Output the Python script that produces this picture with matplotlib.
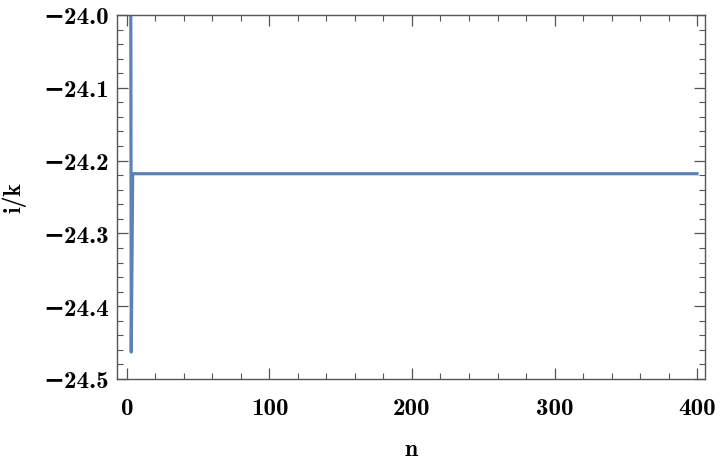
import matplotlib
matplotlib.use('Agg')
import matplotlib.pyplot as plt
from matplotlib.ticker import MultipleLocator, FuncFormatter

# data: early transient, then flat at about -24.218
n_vals = list(range(2, 401))
ik_vals = [-23.0, -24.463] + [-24.218] * 397

fam = ['cmb10', 'DejaVu Serif']

fig = plt.figure(figsize=(7.2, 4.64), dpi=100)
ax = fig.add_axes([117 / 720, 1 - 380 / 464, 588 / 720, 364 / 464])

ax.plot(n_vals, ik_vals, color='#5E81B5', lw=2.3)

ax.set_xlim(-7, 405.6)
ax.set_ylim(-24.5, -24.0)

ax.xaxis.set_major_locator(MultipleLocator(100))
ax.xaxis.set_minor_locator(MultipleLocator(20))
ax.yaxis.set_major_locator(MultipleLocator(0.1))
ax.yaxis.set_minor_locator(MultipleLocator(0.02))

ax.xaxis.set_major_formatter(FuncFormatter(lambda v, p: '%d' % round(v)))
ax.yaxis.set_major_formatter(FuncFormatter(lambda v, p: ('%.1f' % v).replace('-', '\u2212')))

gray = '#555555'
for s in ax.spines.values():
    s.set_color(gray)
    s.set_linewidth(1.0)
ax.tick_params(which='both', direction='in', top=True, right=True, colors=gray,
               labelcolor='black', labelsize=18)
ax.tick_params(which='major', length=8, width=0.9)
ax.tick_params(which='minor', length=4, width=0.8)
ax.tick_params(axis='x', pad=13)
ax.tick_params(axis='y', pad=6)
for lab in ax.get_xticklabels() + ax.get_yticklabels():
    lab.set_family(fam)
    lab.set_weight('bold')

ax.set_xlabel('n', fontsize=17, labelpad=14, family=fam, weight='bold')
ax.set_ylabel('i/k', fontsize=17, labelpad=12, family=fam, weight='bold')

fig.savefig('out.png', dpi=100)
